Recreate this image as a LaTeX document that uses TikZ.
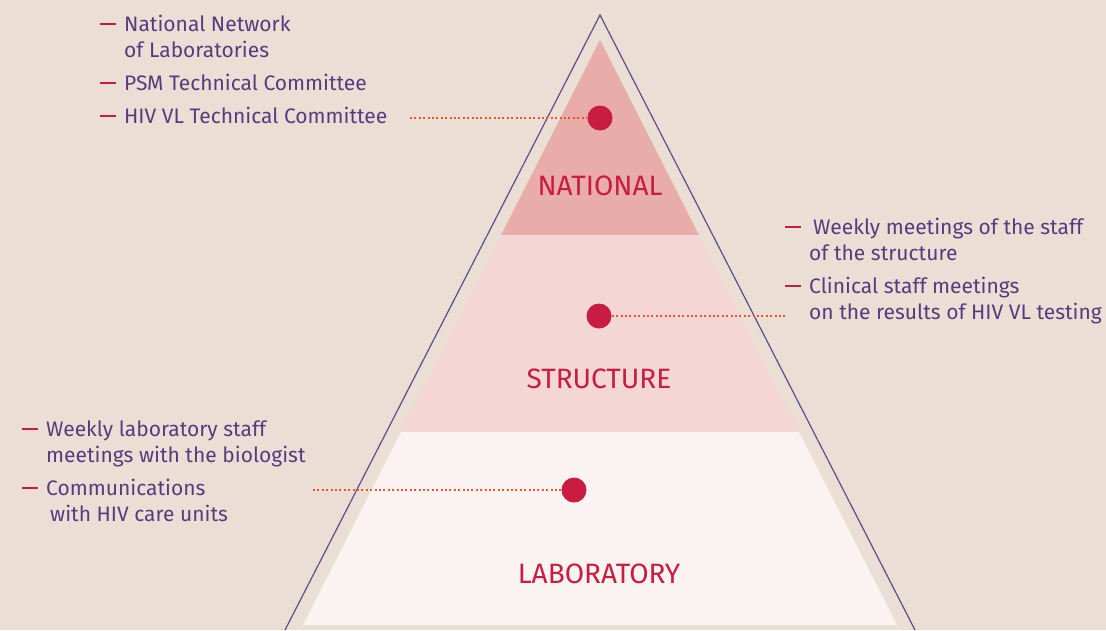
\documentclass[tikz,border=0pt]{standalone}
\usepackage{fontspec}
\setmainfont{Fira Sans}
\usepackage{xcolor}
\usetikzlibrary{positioning}
\definecolor{bgbeige}{HTML}{EBDFD5}
\definecolor{natfill}{HTML}{E8ADA9}
\definecolor{strfill}{HTML}{F4D7D5}
\definecolor{labfill}{HTML}{FAF3F2}
\definecolor{crimson}{HTML}{C81C40}
\definecolor{plum}{HTML}{5A3A7E}
\definecolor{edgeplum}{HTML}{5E4C8C}
\definecolor{dotorange}{HTML}{E8552C}
\newcommand{\itm}{\makebox[24pt][l]{\textcolor{crimson}{\rule[6.5pt]{16pt}{1.4pt}}}}
\newcommand{\cont}{\hspace*{24pt}}

\begin{document}
\begin{tikzpicture}[
x=1pt,y=-1pt,
MyDots/.style={circle,fill=crimson,minimum size=25pt,inner sep=0pt},
Leaders/.style={dotorange,line width=2pt,dash pattern=on 2pt off 2.4pt},
Outline/.style={draw=edgeplum,line width=1.2pt},
TierLabels/.style={crimson,font=\fontsize{28}{30}\selectfont,anchor=base},
ItemLists/.style={plum,font=\fontsize{21}{26}\selectfont,align=left,anchor=base west,inner sep=0pt}
]

\fill[bgbeige] (0,0) rectangle (1106,630);
\useasboundingbox (0,0) rectangle (1106,630);

% tiers of the pyramid
\coordinate (Apex) at (600,40);
\coordinate (NL) at (501,235);
\coordinate (NR) at (699,235);
\coordinate (SL) at (401,432);
\coordinate (SR) at (799,432);
\coordinate (LL) at (303,625);
\coordinate (LR) at (897,625);

\fill[natfill] (Apex)--(NR)--(NL)--cycle;
\fill[strfill] (NL)--(NR)--(SR)--(SL)--cycle;
\fill[labfill] (SL)--(SR)--(LR)--(LL)--cycle;

\draw[Outline] (285,630)--(600,15)--(915,630);

\node[TierLabels] (national) at (600,195) {NATIONAL};
\node[TierLabels] (structure) at (599,388) {STRUCTURE};
\node[TierLabels] (laboratory) at (599,583) {LABORATORY};

% dots and leaders
\node[MyDots] (natdot) at (600,118) {};
\node[MyDots] (strdot) at (599,316) {};
\node[MyDots] (labdot) at (574,490) {};

\coordinate (natend) at (410,118);
\coordinate (strend) at (787,316);
\coordinate (labend) at (313,490);

\draw[Leaders] (natend)--(natdot.west);
\draw[Leaders] (strdot.east)--(strend);
\draw[Leaders] (labend)--(labdot.west);

% lists (base = last line)
\node[ItemLists] (natlist) at (100,123) {\itm National Network\\
\cont of Laboratories\\[7pt]
\itm PSM Technical Committee\\[7pt]
\itm HIV VL Technical Committee};

\node[ItemLists] (strlist) at (785,319) {\itm\hspace{4pt}Weekly meetings of the staff\\
\cont of the structure\\[7pt]
\itm Clinical staff meetings\\
\cont on the results of HIV VL testing};

\node[ItemLists] (lablist) at (22,521) {\itm Weekly laboratory staff\\
\cont meetings with the biologist\\[7pt]
\itm Communications\\
\cont\hspace{4pt}with HIV care units};

\end{tikzpicture}
\end{document}
